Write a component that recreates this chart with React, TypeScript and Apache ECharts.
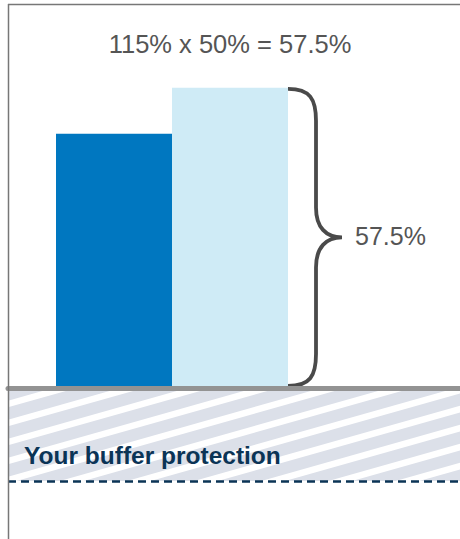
import React, { useEffect, useRef } from "react";
import * as echarts from "echarts";

const barCategories = ["Index return", "Participation return"];
const barValues = [48.7, 57.5];
const barColors = ["#0077c0", "#cfebf6"];
const bufferCategories = ["Your buffer protection"];
const bufferValues = [-17.7];
const titleText = "115% x 50% = 57.5%";
const braceLabel = "57.5%";
const yMin = -28.8;
const yMax = 74.3;

type Pt = [number, number];

function clipY(poly: Pt[], limit: number, keepBelow: boolean): Pt[] {
  const out: Pt[] = [];
  const inside = (p: Pt) => (keepBelow ? p[1] >= limit : p[1] <= limit);
  for (let i = 0; i < poly.length; i++) {
    const a = poly[i];
    const b = poly[(i + 1) % poly.length];
    const ia = inside(a);
    const ib = inside(b);
    if (ia) out.push(a);
    if (ia !== ib) {
      const t = (limit - a[1]) / (b[1] - a[1]);
      out.push([a[0] + t * (b[0] - a[0]), limit]);
    }
  }
  return out;
}

export default function App() {
  const ref = useRef<HTMLDivElement>(null);
  useEffect(() => {
    if (!ref.current) return;
    const chart = echarts.init(ref.current, null, { renderer: "svg" });
    const font = "'Liberation Sans', Arial, sans-serif";
    chart.setOption({
      animation: false,
      backgroundColor: "#ffffff",
      title: {
        text: titleText,
        left: "center",
        top: 26,
        textStyle: { fontSize: 25.5, fontWeight: "normal", color: "#555555", fontFamily: font },
      },
      grid: [
        { left: 56, width: 232, top: 0, bottom: 0 },
        { left: 8, right: 0, top: 0, bottom: 0 },
      ],
      xAxis: [
        {
          type: "category",
          gridIndex: 0,
          data: barCategories,
          axisLine: { show: false },
          axisTick: { show: false },
          axisLabel: { show: false },
        },
        {
          type: "category",
          gridIndex: 1,
          data: bufferCategories,
          z: 10,
          axisLine: { show: true, onZero: true, lineStyle: { color: "#939393", width: 5 } },
          axisTick: { show: false },
          axisLabel: { show: false },
        },
      ],
      yAxis: [
        { type: "value", gridIndex: 0, min: yMin, max: yMax, show: false, splitLine: { show: false } },
        { type: "value", gridIndex: 1, min: yMin, max: yMax, show: false, splitLine: { show: false } },
      ],
      series: [
        {
          type: "custom",
          xAxisIndex: 1,
          yAxisIndex: 1,
          z: 1,
          data: bufferValues.map((v, i) => [i, v]),
          renderItem: (params: any, api: any) => {
            const idx = api.value(0);
            const val = api.value(1);
            const p0 = api.coord([idx, 0]);
            const p1 = api.coord([idx, val]);
            const bw = api.size([1, 0])[0];
            const x0 = p0[0] - bw / 2;
            const x1 = p0[0] + bw / 2;
            const top = p0[1];
            const bot = p1[1];
            const slope = 0.283;
            const period = 19;
            const half = 3.35;
            const base = 404;
            const children: any[] = [
              {
                type: "rect",
                shape: { x: x0, y: top, width: x1 - x0, height: bot - top },
                style: { fill: "#dce0e9" },
              },
            ];
            const kMin = Math.floor((top - base) / period) - 1;
            const kMax = Math.ceil((bot - base + slope * (x1 - x0)) / period) + 1;
            for (let k = kMin; k <= kMax; k++) {
              const c = base + k * period;
              const ya = c;
              const yb = c - slope * (x1 - x0);
              let poly: Pt[] = [
                [x0, ya - half],
                [x1, yb - half],
                [x1, yb + half],
                [x0, ya + half],
              ];
              poly = clipY(poly, top, true);
              if (poly.length < 3) continue;
              poly = clipY(poly, bot, false);
              if (poly.length < 3) continue;
              children.push({
                type: "polygon",
                shape: { points: poly },
                style: { fill: "#ffffff" },
              });
            }
            children.push({
              type: "text",
              x: x0 + 16,
              y: top + 66.6,
              style: {
                text: bufferCategories[idx],
                fontSize: 24.5,
                fontWeight: "bold",
                fill: "#0b3456",
                fontFamily: font,
                align: "left",
                verticalAlign: "middle",
              },
            });
            return { type: "group", children };
          },
          markLine: {
            silent: true,
            symbol: "none",
            label: { show: false },
            lineStyle: { color: "#0b3456", type: [8, 5], width: 2.5 },
            data: [{ yAxis: bufferValues[0] }],
          },
        },
        {
          type: "bar",
          xAxisIndex: 0,
          yAxisIndex: 0,
          barWidth: "100%",
          barGap: 0,
          data: barValues.map((v, i) => ({ value: v, itemStyle: { color: barColors[i] } })),
        },
        {
          type: "custom",
          xAxisIndex: 0,
          yAxisIndex: 0,
          z: 5,
          data: [[1, barValues[1]]],
          renderItem: (params: any, api: any) => {
            const idx = api.value(0);
            const val = api.value(1);
            const p0 = api.coord([idx, 0]);
            const p1 = api.coord([idx, val]);
            const bw = api.size([1, 0])[0];
            const x0 = p0[0] + bw / 2;
            const top = p1[1] + 1;
            const bot = p0[1] - 2.5;
            const mid = (top + bot) / 2;
            const stem = x0 + 28;
            const tip = x0 + 54;
            const d =
              `M ${x0} ${top} C ${x0 + 22} ${top}, ${stem} ${top + 10}, ${stem} ${top + 32} ` +
              `L ${stem} ${mid - 30} C ${stem} ${mid - 10}, ${stem + 10} ${mid}, ${tip} ${mid} ` +
              `C ${stem + 10} ${mid}, ${stem} ${mid + 10}, ${stem} ${mid + 30} ` +
              `L ${stem} ${bot - 32} C ${stem} ${bot - 10}, ${x0 + 22} ${bot}, ${x0} ${bot}`;
            return {
              type: "group",
              children: [
                {
                  type: "path",
                  shape: { pathData: d },
                  style: { fill: "none", stroke: "#4a4a4a", lineWidth: 3.8 },
                },
                {
                  type: "text",
                  x: tip + 13,
                  y: mid - 1,
                  style: {
                    text: braceLabel,
                    fontSize: 25,
                    fill: "#555555",
                    fontFamily: font,
                    align: "left",
                    verticalAlign: "middle",
                  },
                },
              ],
            };
          },
        },
      ],
      graphic: [
        {
          type: "line",
          shape: { x1: 8, y1: 4.5, x2: 460, y2: 4.5 },
          style: { stroke: "#777777", lineWidth: 1.5 },
          z: 20,
        },
        {
          type: "line",
          shape: { x1: 8.5, y1: 4, x2: 8.5, y2: 539 },
          style: { stroke: "#777777", lineWidth: 1.5 },
          z: 20,
        },
      ],
    });
    return () => chart.dispose();
  }, []);
  return (
    <div
      ref={ref}
      style={{ position: "fixed", left: 0, top: 0, width: 460, height: 539 }}
    />
  );
}
